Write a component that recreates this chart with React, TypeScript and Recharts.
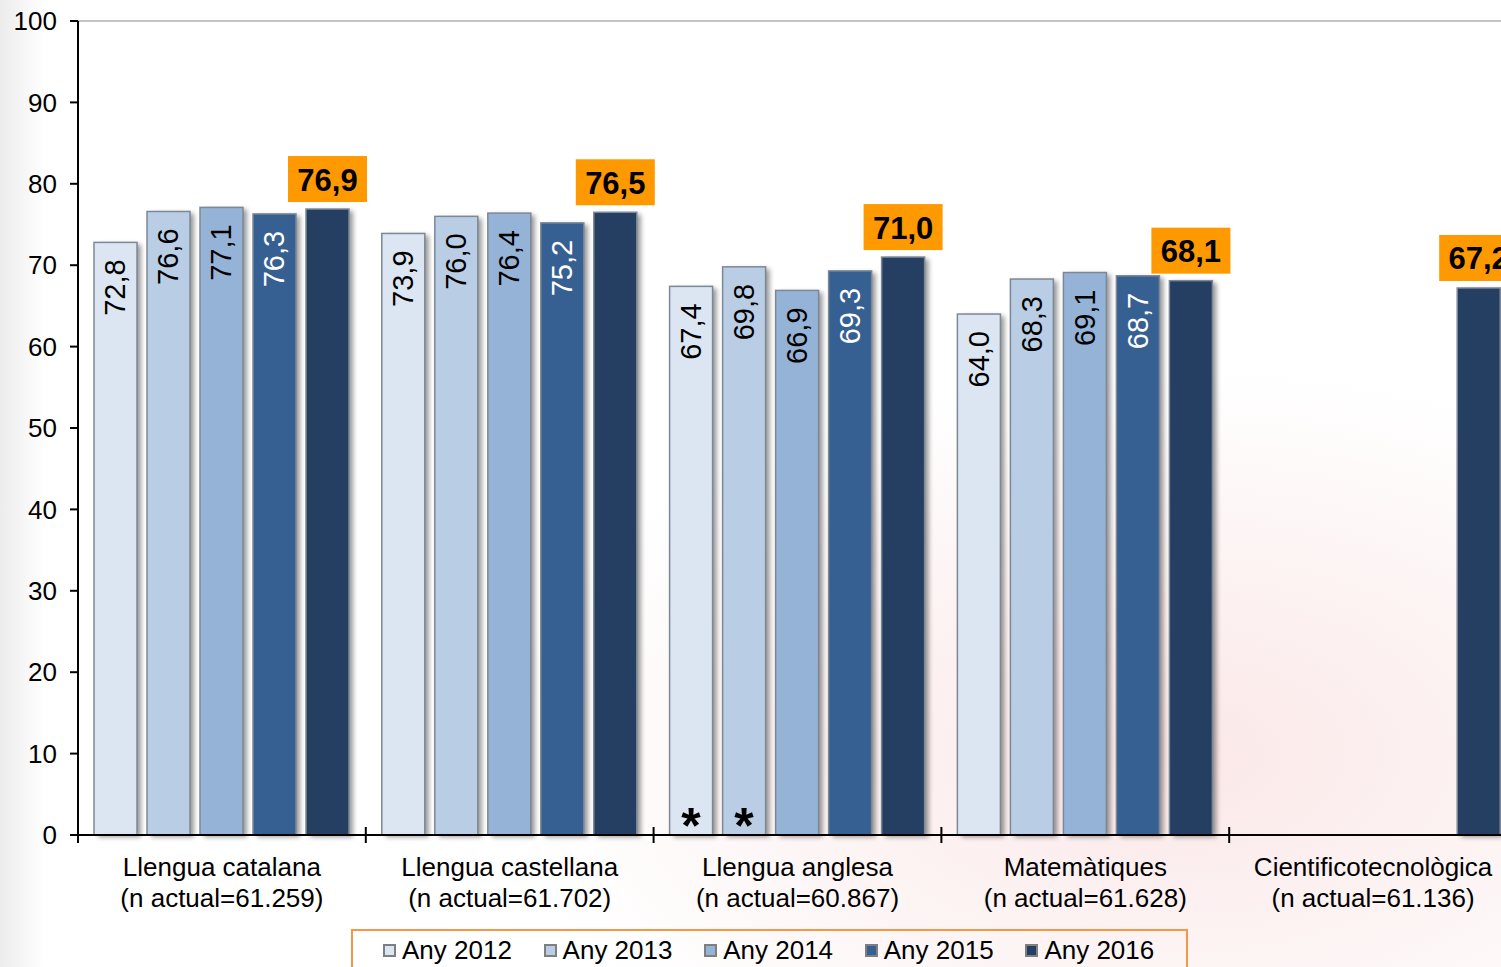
import { BarChart, Bar, XAxis, YAxis, ReferenceLine, LabelList } from 'recharts'

// categories & sample sizes
const CATEGORIES = ['Llengua catalana', 'Llengua castellana', 'Llengua anglesa', 'Matemàtiques', 'Cientificotecnològica']
const SAMPLE_SIZES = ['61.259', '61.702', '60.867', '61.628', '61.136']

// values per year
const Y2012 = [72.8, 73.9, 67.4, 64.0, null]
const Y2013 = [76.6, 76.0, 69.8, 68.3, null]
const Y2014 = [77.1, 76.4, 66.9, 69.1, null]
const Y2015 = [76.3, 75.2, 69.3, 68.7, null]
const Y2016 = [76.9, 76.5, 71.0, 68.1, 67.2]

// categories with an asterisk on 2012 and 2013
const FLAGGED = ['Llengua anglesa']

const Y_TICKS = [0, 10, 20, 30, 40, 50, 60, 70, 80, 90, 100]

const SERIES = [
  { key: 'y2012', name: 'Any 2012', color: '#dce6f2', text: '#000' },
  { key: 'y2013', name: 'Any 2013', color: '#b9cde5', text: '#000' },
  { key: 'y2014', name: 'Any 2014', color: '#95b3d7', text: '#000' },
  { key: 'y2015', name: 'Any 2015', color: '#376092', text: '#fff' },
  { key: 'y2016', name: 'Any 2016', color: '#253f62', text: '#000' },
]

const data = CATEGORIES.map((name, i) => ({
  name,
  n: SAMPLE_SIZES[i],
  y2012: Y2012[i],
  y2013: Y2013[i],
  y2014: Y2014[i],
  y2015: Y2015[i],
  y2016: Y2016[i],
}))

const FONT = '"Liberation Sans", Arial, sans-serif'
const CHART_W = 1530
const CHART_H = 967
const Y_AXIS_W = 78
const MARGIN = { top: 21, right: 13, left: 0, bottom: 0 }
const PLOT_W = CHART_W - Y_AXIS_W - MARGIN.right - MARGIN.left
const BAND = PLOT_W / CATEGORIES.length

const fmt = (v: number) => v.toFixed(1).replace('.', ',')

function BarShape(props: any) {
  const { x, y, width, height, fill } = props
  if (!height || height <= 0) return null
  return (
    <g>
      <defs>
        <filter id="barShadow" x="-50%" y="-10%" width="200%" height="120%">
          <feGaussianBlur stdDeviation="2.5" />
        </filter>
      </defs>
      <rect x={x + 4} y={y + 2} width={width} height={height} fill="#000" opacity={0.4} filter="url(#barShadow)" />
      <rect x={x} y={y} width={width} height={height} fill={fill} stroke="#7d8896" strokeWidth={1.5} />
    </g>
  )
}

function InsideLabel(color: string) {
  return (props: any) => {
    const { x, y, width, value } = props
    if (value == null) return null
    const cx = x + width / 2
    const ty = y + 17
    return (
      <text
        x={cx}
        y={ty}
        transform={`rotate(-90 ${cx} ${ty})`}
        textAnchor="end"
        dominantBaseline="central"
        fontSize={29}
        fontFamily={FONT}
        fill={color}
      >
        {fmt(value)}
      </text>
    )
  }
}

function BoxLabel(props: any) {
  const { x, y, width, value } = props
  if (value == null) return null
  const cx = x + width / 2
  const bw = 79
  const bh = 46
  const top = y - 7 - bh
  return (
    <g>
      <rect x={cx - bw / 2} y={top} width={bw} height={bh} fill="#ff9900" />
      <text x={cx} y={top + bh / 2 + 1} textAnchor="middle" dominantBaseline="central" fontSize={31} fontWeight="bold" fontFamily={FONT} fill="#000">
        {fmt(value)}
      </text>
    </g>
  )
}

function StarLabel(props: any) {
  const { x, y, width, height, index, value } = props
  if (value == null || !FLAGGED.includes(CATEGORIES[index])) return null
  return (
    <text x={x + width / 2} y={y + height + 8} textAnchor="middle" fontSize={50} fontWeight="bold" fontFamily={FONT} fill="#000">
      *
    </text>
  )
}

function CategoryTick(props: any) {
  const { x, y, payload, index } = props
  const left = x - BAND / 2
  const right = x + BAND / 2
  const n = data.find((d) => d.name === payload.value)?.n
  return (
    <g>
      <line x1={left} x2={left} y1={y - 8} y2={y + 8} stroke="#000" strokeWidth={2} />
      {index === CATEGORIES.length - 1 && (
        <line x1={right} x2={right} y1={y - 8} y2={y + 8} stroke="#000" strokeWidth={2} />
      )}
      <text x={x} y={y + 41} textAnchor="middle" fontSize={26} fontFamily={FONT} fill="#000">
        {payload.value}
      </text>
      <text x={x} y={y + 72} textAnchor="middle" fontSize={26} fontFamily={FONT} fill="#000">
        (n actual={n})
      </text>
    </g>
  )
}

export default function App() {
  return (
    <div
      style={{
        position: 'fixed',
        left: 0,
        top: 0,
        width: 1501,
        height: 967,
        overflow: 'hidden',
        background:
          'radial-gradient(ellipse 45% 40% at 78% 78%, rgba(240,170,170,0.28), rgba(255,255,255,0) 100%), linear-gradient(to right, #ececec, #ffffff 45px)',
        fontFamily: FONT,
      }}
    >
      <BarChart width={CHART_W} height={CHART_H} data={data} margin={MARGIN} barCategoryGap={16} barGap={10}>
        <ReferenceLine y={100} stroke="#c4c4c4" strokeWidth={2} />
        <YAxis
          width={Y_AXIS_W}
          domain={[0, 100]}
          ticks={Y_TICKS}
          interval={0}
          tickSize={8}
          tickMargin={13}
          axisLine={{ stroke: '#000', strokeWidth: 2 }}
          tickLine={{ stroke: '#000', strokeWidth: 2 }}
          tick={{ fontSize: 26, fill: '#000', fontFamily: FONT }}
        />
        <XAxis
          dataKey="name"
          height={132}
          interval={0}
          tickSize={0}
          tickMargin={0}
          tickLine={false}
          axisLine={{ stroke: '#000', strokeWidth: 2 }}
          tick={<CategoryTick />}
        />
        {SERIES.map((s) => (
          <Bar key={s.key} dataKey={s.key} name={s.name} fill={s.color} shape={<BarShape />} isAnimationActive={false}>
            {s.key === 'y2016' ? (
              <LabelList dataKey={s.key} content={BoxLabel} />
            ) : (
              <LabelList dataKey={s.key} content={InsideLabel(s.text)} />
            )}
            {(s.key === 'y2012' || s.key === 'y2013') && <LabelList dataKey={s.key} content={StarLabel} />}
          </Bar>
        ))}
      </BarChart>

      {/* legend */}
      <div
        style={{
          position: 'absolute',
          left: 351,
          top: 929,
          width: 837,
          height: 50,
          border: '2px solid #f79646',
          boxSizing: 'border-box',
          display: 'flex',
          alignItems: 'flex-start',
          paddingLeft: 30,
          paddingTop: 4,
        }}
      >
        {SERIES.map((s) => (
          <div
            key={s.key}
            style={{ width: 163, display: 'flex', alignItems: 'center', fontSize: 26, lineHeight: '30px', color: '#000' }}
          >
            <span
              style={{
                width: 13,
                height: 13,
                background: s.color,
                border: '2px solid #7f7f7f',
                boxSizing: 'border-box',
                marginRight: 6,
                display: 'inline-block',
              }}
            />
            {s.name}
          </div>
        ))}
      </div>
    </div>
  )
}
